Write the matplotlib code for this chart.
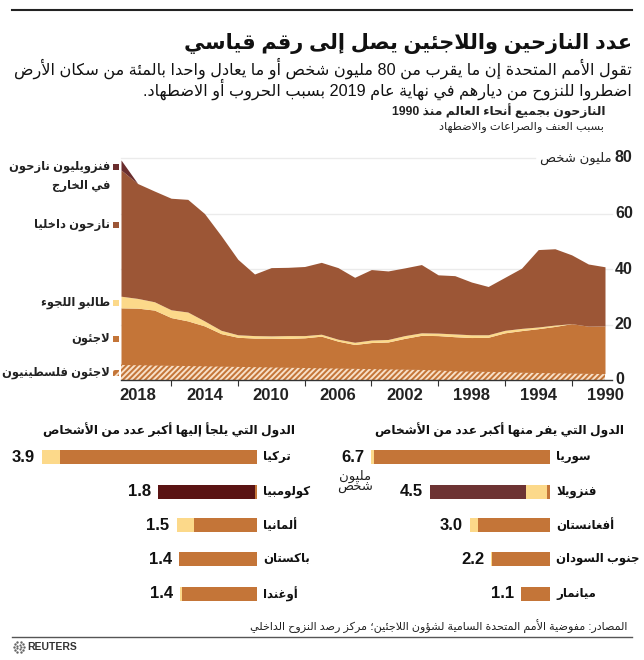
import re
import numpy as np
import matplotlib
matplotlib.use("Agg")
import matplotlib.pyplot as plt
from matplotlib.patches import Rectangle

plt.rcParams['font.family'] = ['Liberation Sans', 'DejaVu Sans']
plt.rcParams['hatch.linewidth'] = 1.4

# ---- data (million people) ----
years = list(range(1990, 2020))
palestinian = [2.3, 2.4, 2.5, 2.6, 2.7, 2.8, 3.0, 3.1, 3.2, 3.3,
               3.6, 3.8, 3.9, 4.0, 4.1, 4.2, 4.3, 4.4, 4.5, 4.6,
               4.7, 4.8, 4.9, 5.0, 5.1, 5.2, 5.3, 5.4, 5.5, 5.6]
refugees = [19.5, 19.4, 20.3, 19.3, 18.5, 17.8, 17.0, 15.4, 15.3, 15.6,
            16.0, 16.1, 15.0, 13.7, 13.5, 12.8, 14.0, 15.8, 15.2, 15.0,
            15.1, 15.1, 15.4, 16.7, 19.5, 21.3, 22.5, 25.2, 25.9, 26.0]
asylum = [0.0, 0.0, 0.0, 0.5, 0.6, 0.8, 0.9, 0.9, 1.0, 1.0,
          0.9, 0.9, 1.0, 0.9, 0.9, 0.8, 0.7, 0.7, 0.8, 1.0,
          0.8, 0.9, 0.9, 1.2, 1.8, 3.2, 2.8, 3.0, 3.5, 4.2]
idp = [21.3, 22.4, 24.8, 27.5, 27.9, 21.7, 19.1, 17.4, 19.0, 21.0,
       21.0, 24.6, 24.4, 24.7, 25.4, 23.4, 25.8, 25.9, 24.9, 24.6,
       24.6, 22.2, 27.2, 34.1, 38.7, 40.6, 40.2, 39.9, 41.4, 45.5]
ven_years = [2018, 2019]
venezuelans = [0.0, 3.6]

x_labels = [2018, 2014, 2010, 2006, 2002, 1998, 1994, 1990]
x_minor = [2016, 2012, 2008, 2004, 2000, 1996, 1992]
y_ticks = [80, 60, 40, 20, 0]

origin_names = ['سوريا', 'فنزويلا', 'أفغانستان', 'جنوب السودان', 'ميانمار']
origin_ref = [6.6, 0.1, 2.7, 2.17, 1.08]
origin_asy = [0.1, 0.8, 0.3, 0.03, 0.02]
origin_ven = [0.0, 3.6, 0.0, 0.0, 0.0]
origin_lbl = ['6.7', '4.5', '3.0', '2.2', '1.1']

host_names = ['تركيا', 'كولومبيا', 'ألمانيا', 'باكستان', 'أوغندا']
host_ref = [3.58, 0.03, 1.15, 1.41, 1.37]
host_asy = [0.33, 0.0, 0.31, 0.01, 0.03]
host_ven = [0.0, 1.77, 0.0, 0.0, 0.0]
host_lbl = ['3.9', '1.8', '1.5', '1.4', '1.4']

C_IDP = '#9c5636'
C_REF = '#c47538'
C_ASY = '#fcd98a'
C_VEN = '#6b2e2e'
C_VEN_BAR = '#6d3333'
C_COL_BAR = '#5a1313'
HATCH = '#f8e0c8'

# ---- minimal arabic shaping + rtl ordering ----
DUAL = {'ئ': 0xFE89, 'ب': 0xFE8F, 'ت': 0xFE95, 'ث': 0xFE99, 'ج': 0xFE9D, 'ح': 0xFEA1,
        'خ': 0xFEA5, 'س': 0xFEB1, 'ش': 0xFEB5, 'ص': 0xFEB9, 'ض': 0xFEBD, 'ط': 0xFEC1,
        'ظ': 0xFEC5, 'ع': 0xFEC9, 'غ': 0xFECD, 'ف': 0xFED1, 'ق': 0xFED5, 'ك': 0xFED9,
        'ل': 0xFEDD, 'م': 0xFEE1, 'ن': 0xFEE5, 'ه': 0xFEE9, 'ي': 0xFEF1}
RIGHT = {'آ': 0xFE81, 'أ': 0xFE83, 'ؤ': 0xFE85, 'إ': 0xFE87, 'ا': 0xFE8D, 'ة': 0xFE93,
         'د': 0xFEA9, 'ذ': 0xFEAB, 'ر': 0xFEAD, 'ز': 0xFEAF, 'و': 0xFEED, 'ى': 0xFEEF}
LAMALEF = {'آ': 0xFEF5, 'أ': 0xFEF7, 'إ': 0xFEF9, 'ا': 0xFEFB}


def shape(s):
    out = []
    i, n = 0, len(s)
    prev = False
    while i < n:
        c = s[i]
        if c == 'ل' and i + 1 < n and s[i + 1] in LAMALEF:
            out.append(chr(LAMALEF[s[i + 1]] + (1 if prev else 0)))
            prev = False
            i += 2
            continue
        if c in DUAL:
            nxt = s[i + 1] if i + 1 < n else ''
            ok = nxt in DUAL or nxt in RIGHT
            b = DUAL[c]
            if prev and ok:
                f = b + 3
            elif prev:
                f = b + 1
            elif ok:
                f = b + 2
            else:
                f = b
            out.append(chr(f))
            prev = ok
        elif c in RIGHT:
            out.append(chr(RIGHT[c] + (1 if prev else 0)))
            prev = False
        elif c == 'ء':
            out.append(chr(0xFE80))
            prev = False
        else:
            out.append(c)
            prev = False
        i += 1
    return ''.join(out)


def ar(s):
    lines = []
    for line in s.split('\n'):
        sh = shape(line)
        toks = re.findall(r'[0-9A-Za-z]+(?:[.,][0-9]+)*|[^0-9A-Za-z]+', sh)
        lines.append(''.join(t if re.match(r'[0-9A-Za-z]', t) else t[::-1] for t in reversed(toks)))
    return '\n'.join(lines)


W, H = 644, 660
PL, PR, PT, PB = 121, 605, 158, 380
fig = plt.figure(figsize=(W / 100, H / 100), dpi=100)
fig.patch.set_facecolor('white')

# ---- area chart ----
ax = fig.add_axes([PL / W, 1 - PB / H, (PR - PL) / W, (PB - PT) / H])
yrs = np.array(years)
pal = np.array(palestinian)
ref = np.array(refugees)
asy = np.array(asylum)
idp_a = np.array(idp)
ax.fill_between(yrs, 0, pal, facecolor=C_REF, edgecolor=HATCH, hatch='//////', linewidth=0)
ax.fill_between(yrs, pal, ref, color=C_REF, linewidth=0)
ax.fill_between(yrs, ref, ref + asy, color=C_ASY, linewidth=0)
ax.fill_between(yrs, ref + asy, ref + asy + idp_a, color=C_IDP, linewidth=0)
tot = ref + asy + idp_a
base_v = np.array([tot[years.index(y)] for y in ven_years])
ax.fill_between(ven_years, base_v, base_v + np.array(venezuelans), color=C_VEN, linewidth=0)

for v in (20, 40, 60):
    ax.axhline(v, xmax=(612 - PL) / (PR - PL), color='#ebebeb', lw=1, zorder=0, clip_on=False)
ax.axhline(80, xmax=(535 - PL) / (PR - PL), color='#ebebeb', lw=1, zorder=0, clip_on=False)

ax.set_xlim(2019, 1990)
ax.set_ylim(0, 80)
for s in ('top', 'left', 'right', 'bottom'):
    ax.spines[s].set_visible(False)
ax.set_yticks([])
ax.set_xticks(x_labels)
ax.set_xticklabels([str(y) for y in x_labels], fontsize=12, fontweight='bold', color='#222222')
ax.set_xticks(x_minor, minor=True)
ax.tick_params(axis='x', which='major', length=0, pad=6)
ax.tick_params(axis='x', which='minor', length=4, color='#333333', width=0.8)

# ---- overlay for text in pixel coordinates ----
ov = fig.add_axes([0, 0, 1, 1], facecolor='none')
ov.set_xlim(0, W)
ov.set_ylim(H, 0)
ov.axis('off')

ov.plot([12, 632], [10, 10], color='#222222', lw=1.5)
ov.plot([12, 632], [637, 637], color='#555555', lw=1)
ov.plot([PL, 612], [PB, PB], color='#333333', lw=1)

ov.text(632, 43, ar('عدد النازحين واللاجئين يصل إلى رقم قياسي'), ha='right', va='center',
        fontsize=15, fontweight='bold', color='#111111')
ov.text(632, 68, ar('تقول الأمم المتحدة إن ما يقرب من 80 مليون شخص أو ما يعادل واحدا بالمئة من سكان الأرض'),
        ha='right', va='center', fontsize=11.6, color='#111111')
ov.text(632, 89, ar('اضطروا للنزوح من ديارهم في نهاية عام 2019 بسبب الحروب أو الاضطهاد.'),
        ha='right', va='center', fontsize=11.6, color='#111111')
ov.text(606, 111, ar('النازحون بجميع أنحاء العالم منذ 1990'), ha='right', va='center',
        fontsize=8.8, fontweight='bold', color='#222222')
ov.text(604, 127, ar('بسبب العنف والصراعات والاضطهاد'), ha='right', va='center',
        fontsize=8.2, color='#222222')

# y labels
for v in y_ticks:
    ov.text(615, PB - (PB - PT) / 80 * v, str(v), ha='left', va='center', fontsize=11.5,
            fontweight='bold', color='#222222')
ov.text(612, PT, ar('مليون شخص'), ha='right', va='center', fontsize=9.5, color='#222222')

# legend
leg = [(166.5, C_VEN, 'فنزويليون نازحون', False),
       (224.5, C_IDP, 'نازحون داخليا', False),
       (302.5, C_ASY, 'طالبو اللجوء', False),
       (338.5, C_REF, 'لاجئون', False),
       (372.5, C_REF, 'لاجئون فلسطينيون', True)]
for y, c, t, h in leg:
    if h:
        ov.add_patch(Rectangle((113, y - 3), 6, 6, facecolor=c, edgecolor=HATCH, hatch='////', lw=0))
    else:
        ov.add_patch(Rectangle((113, y - 3), 6, 6, facecolor=c, lw=0))
    ov.text(110, y, ar(t), ha='right', va='center', fontsize=8.3, fontweight='bold', color='#222222')
ov.text(110, 186.5, ar('في الخارج'), ha='right', va='center', fontsize=8.3, fontweight='bold',
        color='#222222')

# ---- bar panels ----
row_y = [457, 492, 525, 559, 594]


def bars(right, scale, refv, asyv, venv, names, lbls, vcol):
    for i in range(len(names)):
        y = row_y[i]
        x0 = right
        segs = [(refv[i], C_REF), (asyv[i], C_ASY), (venv[i], vcol)]
        for val, col in segs:
            if val <= 0:
                continue
            w = val * scale
            ov.add_patch(Rectangle((x0 - w, y - 7), w, 14, facecolor=col, lw=0))
            x0 -= w
        ov.text(x0 - 7, y, lbls[i], ha='right', va='center', fontsize=12, fontweight='bold', color='#111111')
        ov.text(right + 6, y, ar(names[i]), ha='left', va='center', fontsize=8.5, fontweight='bold',
                color='#111111')


bars(550, 26.7, origin_ref, origin_asy, origin_ven, origin_names, origin_lbl, C_VEN_BAR)
bars(257, 55.1, host_ref, host_asy, host_ven, host_names, host_lbl, C_COL_BAR)

ov.text(624, 430, ar('الدول التي يفر منها أكبر عدد من الأشخاص'), ha='right', va='center',
        fontsize=8.8, fontweight='bold', color='#111111')
ov.text(295, 430, ar('الدول التي يلجأ إليها أكبر عدد من الأشخاص'), ha='right', va='center',
        fontsize=8.8, fontweight='bold', color='#111111')
ov.text(355, 482, ar('مليون\nشخص'), ha='center', va='center', fontsize=9.5, color='#222222',
        linespacing=0.95)

ov.text(627, 627, ar('المصادر: مفوضية الأمم المتحدة السامية لشؤون اللاجئين؛ مركز رصد النزوح الداخلي'),
        ha='right', va='center', fontsize=8.0, color='#222222')

# reuters mark
ang = np.linspace(0, 2 * np.pi, 10, endpoint=False)
ov.scatter(19 + 5 * np.cos(ang), 647 + 5 * np.sin(ang), s=3, color='#666666', lw=0)
ov.scatter(19 + 2.5 * np.cos(ang[::2]), 647 + 2.5 * np.sin(ang[::2]), s=2.5, color='#666666', lw=0)
ov.text(27, 647, 'REUTERS', ha='left', va='center', fontsize=7.5, fontweight='bold', color='#333333')

fig.savefig('out.png', dpi=100, facecolor='white')
